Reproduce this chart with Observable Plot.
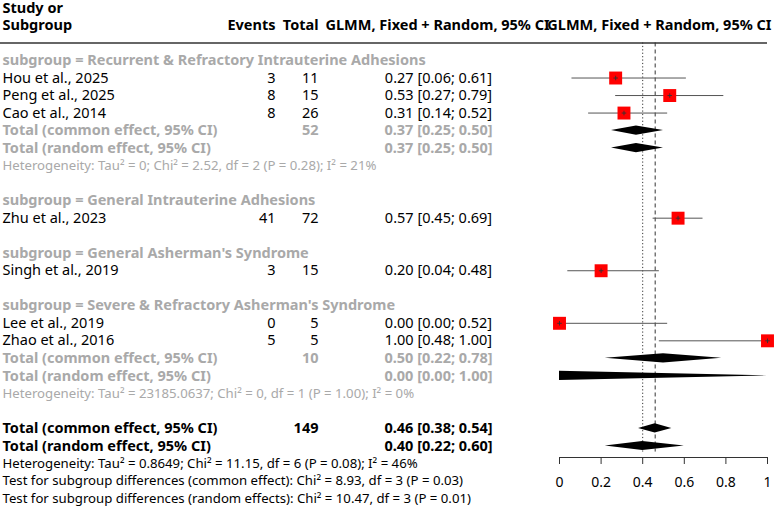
<!DOCTYPE html>
<html><head><meta charset="utf-8">
<script src="https://cdn.jsdelivr.net/npm/d3@7"></script>
<script src="https://cdn.jsdelivr.net/npm/@observablehq/plot@0.6"></script>
<style>body{margin:0;background:#fff}</style>
</head><body><div id="chart"></div>
<script>
// ---------- data ----------
const subgroups = [
  "Recurrent & Refractory Intrauterine Adhesions",
  "General Intrauterine Adhesions",
  "General Asherman's Syndrome",
  "Severe & Refractory Asherman's Syndrome"
];
const studies = ["Hou et al., 2025", "Peng et al., 2025", "Cao et al., 2014", "Zhu et al., 2023", "Singh et al., 2019", "Lee et al., 2019", "Zhao et al., 2016"];
const studyGroup = [0, 0, 0, 1, 2, 3, 3];
const events = [3, 8, 8, 41, 3, 0, 5];
const totals = [11, 15, 26, 72, 15, 5, 5];
const est = [0.27, 0.53, 0.31, 0.57, 0.20, 0.00, 1.00];
const lo  = [0.06, 0.27, 0.14, 0.45, 0.04, 0.00, 0.48];
const hi  = [0.61, 0.79, 0.52, 0.69, 0.48, 0.52, 1.00];

// pooled subgroup results (only subgroups with >1 study)
const pooledGroups = [0, 3];
const pooledN = [52, 10];
const commonEst = [0.37, 0.50], commonLo = [0.25, 0.22], commonHi = [0.50, 0.78];
const randomEst = [0.37, 0.00], randomLo = [0.25, 0.00], randomHi = [0.50, 1.00];
const heteroText = [
  "Heterogeneity: Tau² = 0; Chi² = 2.52, df = 2 (P = 0.28); I² = 21%",
  "Heterogeneity: Tau² = 23185.0637; Chi² = 0, df = 1 (P = 1.00); I² = 0%"
];

// overall
const overallN = 149;
const overallCommon = [0.46, 0.38, 0.54];
const overallRandom = [0.40, 0.22, 0.60];
const overallNotes = [
  "Heterogeneity: Tau² = 0.8649; Chi² = 11.15, df = 6 (P = 0.08); I² = 46%",
  "Test for subgroup differences (common effect): Chi² = 8.93, df = 3 (P = 0.03)",
  "Test for subgroup differences (random effects): Chi² = 10.47, df = 3 (P = 0.01)"
];
const axisTicks = [0, 0.2, 0.4, 0.6, 0.8, 1];
const headerStudy = ["Study or", "Subgroup"];
const headerCols = ["Events", "Total", "GLMM, Fixed + Random, 95% CI", "GLMM, Fixed + Random, 95% CI"];

// ---------- layout (row structure) ----------
const f2 = v => v.toFixed(2);
const ci = (e, l, h) => `${f2(e)} [${f2(l)}; ${f2(h)}]`;
const GRAY = "#a9a9a9";

const labels = [];
const evCells = [];
const totCells = [];
const estCells = [];
const studyRows = [];
const diamonds = [];
let row = 0;
subgroups.forEach((g, gi) => {
  labels.push({row, text: "subgroup = " + g, bold: true, gray: true});
  row++;
  studies.forEach((s, i) => {
    if (studyGroup[i] !== gi) return;
    labels.push({row, text: s});
    evCells.push({row, text: String(events[i])});
    totCells.push({row, text: String(totals[i])});
    estCells.push({row, text: ci(est[i], lo[i], hi[i])});
    studyRows.push({row, est: est[i], lo: lo[i], hi: hi[i]});
    row++;
  });
  const p = pooledGroups.indexOf(gi);
  if (p >= 0) {
    labels.push({row, text: "Total (common effect, 95% CI)", bold: true, gray: true});
    totCells.push({row, text: String(pooledN[p]), bold: true, gray: true});
    estCells.push({row, text: ci(commonEst[p], commonLo[p], commonHi[p]), bold: true, gray: true});
    diamonds.push({row, est: commonEst[p], lo: commonLo[p], hi: commonHi[p]});
    row++;
    labels.push({row, text: "Total (random effect, 95% CI)", bold: true, gray: true});
    estCells.push({row, text: ci(randomEst[p], randomLo[p], randomHi[p]), bold: true, gray: true});
    diamonds.push({row, est: randomEst[p], lo: randomLo[p], hi: randomHi[p]});
    row++;
    labels.push({row, text: heteroText[p], gray: true, small: true});
    row++;
  }
  row++; // blank line
});
labels.push({row, text: "Total (common effect, 95% CI)", bold: true});
totCells.push({row, text: String(overallN), bold: true});
estCells.push({row, text: ci(...overallCommon), bold: true});
diamonds.push({row, est: overallCommon[0], lo: overallCommon[1], hi: overallCommon[2]});
row++;
labels.push({row, text: "Total (random effect, 95% CI)", bold: true});
estCells.push({row, text: ci(...overallRandom), bold: true});
diamonds.push({row, est: overallRandom[0], lo: overallRandom[1], hi: overallRandom[2]});
const lastDiamondRow = row;
row++;
overallNotes.forEach(t => { labels.push({row, text: t, small: true}); row++; });
const lastRow = row - 1;

const H = 0.26; // diamond half-height in rows
const diamondPts = diamonds.flatMap((d, k) => [
  {id: k, x: d.lo, y1: d.row, y2: d.row},
  {id: k, x: d.est, y1: d.row - H, y2: d.row + H},
  {id: k, x: d.hi, y1: d.row, y2: d.row}
]);

const headerRows = [
  {row: -3, text: headerStudy[0]},
  {row: -2, text: headerStudy[1]}
];

const FS = 14.5, FSS = 13.2;
const fill = d => d.gray ? GRAY : "black";

// text column helper: split bold / normal since fontWeight is a constant option
function column(data, opts) {
  return [true, false].map(b => Plot.text(data.filter(d => !!d.bold === b), {
    y: "row", text: "text", frameAnchor: "left", fill,
    fontWeight: b ? "bold" : "normal",
    fontSize: d => d.small ? FSS : FS,
    ...opts
  }));
}

const chart = Plot.plot({
  width: 778, height: 511,
  marginLeft: 559, marginRight: 11, marginTop: 0, marginBottom: 54,
  x: {domain: [0, 1]},
  y: {domain: [0, lastRow], range: [60, 498], axis: null},
  style: {fontFamily: "'Noto Sans', sans-serif", background: "white", color: "black"},
  marks: [
    // header underline
    Plot.ruleY([-1], {insetLeft: -559, stroke: "#666", strokeWidth: 2}),
    // headers
    Plot.text(headerRows, {y: "row", text: "text", frameAnchor: "left", dx: -557, textAnchor: "start", fontWeight: "bold", fontSize: FS}),
    Plot.text([headerCols[0]], {y: -2, text: d => d, frameAnchor: "left", dx: -284, textAnchor: "end", fontWeight: "bold", fontSize: FS}),
    Plot.text([headerCols[1]], {y: -2, text: d => d, frameAnchor: "left", dx: -241, textAnchor: "end", fontWeight: "bold", fontSize: FS}),
    Plot.text([headerCols[2]], {y: -2, text: d => d, frameAnchor: "left", dx: -234, textAnchor: "start", fontWeight: "bold", fontSize: FS}),
    Plot.text([headerCols[3]], {y: -2, text: d => d, frameAnchor: "right", dx: 4, textAnchor: "end", fontWeight: "bold", fontSize: FS}),
    // left columns
    ...column(labels, {dx: -557, textAnchor: "start"}),
    ...column(evCells, {dx: -284, textAnchor: "end"}),
    ...column(totCells, {dx: -241, textAnchor: "end"}),
    ...column(estCells, {dx: -121, textAnchor: "middle"}),
    // reference lines
    Plot.ruleX([overallRandom[0]], {y1: -1, y2: lastDiamondRow + 0.35, stroke: "#333", strokeDasharray: "1.2,2.2"}),
    Plot.ruleX([overallCommon[0]], {y1: -1, y2: lastDiamondRow + 0.35, stroke: "#333", strokeDasharray: "4,3"}),
    // CI lines, squares, centre marks
    Plot.ruleY(studyRows, {y: "row", x1: "lo", x2: "hi", stroke: "#555", strokeWidth: 1}),
    Plot.dot(studyRows, {x: "est", y: "row", symbol: "square", r: 7.3, fill: "#ff0000", stroke: "none"}),
    Plot.dot(studyRows, {x: "est", y: "row", symbol: "plus", r: 1.6, stroke: "#333", strokeWidth: 0.9}),
    // diamonds
    Plot.areaY(diamondPts, {x: "x", y1: "y1", y2: "y2", z: "id", fill: "black", curve: "linear"}),
    // axis
    Plot.frame({anchor: "bottom", stroke: "#333"}),
    Plot.axisX({ticks: axisTicks, tickFormat: d => String(+d.toFixed(1)), tickSize: 7, tickPadding: 13, fontSize: 14, anchor: "bottom", stroke: "#333"})
  ]
});
document.getElementById("chart").appendChild(chart);
</script>
</body></html>
